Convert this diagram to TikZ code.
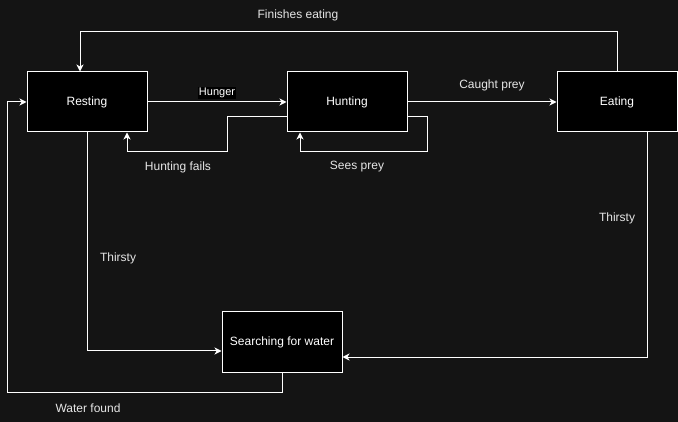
\documentclass[tikz,border=0pt]{standalone}
\usepackage{fontspec}
\setmainfont{Liberation Sans}
\usetikzlibrary{arrows.meta, positioning}
\definecolor{canvas}{HTML}{141414}
\definecolor{txt}{HTML}{E6E6E6}
\tikzset{
x=1pt, y=-1pt, % one unit is one pixel of the sketch, y runs down
state/.style={draw=white, fill=black, line width=1pt, minimum width=120pt, minimum height=60pt, inner sep=0pt, text=white, font=\fontsize{12}{14}\selectfont}, % the boxes
edge/.style={draw=white, line width=1pt, -{Stealth[length=7pt, width=7pt, inset=2pt]}}, % the connectors
lbl/.style={text=txt, font=\fontsize{12}{14}\selectfont, inner sep=1pt}, % edge labels
}

\begin{document}
\begin{tikzpicture}
        \fill[canvas] (0,0) rectangle (678,422);
        \useasboundingbox (0,0) rectangle (678,422);

        \node[state] (resting) at (87, 102) {Resting};
        \node[state] (hunting) at (347, 102) {Hunting};
        \node[state] (eating) at (617, 102) {Eating};
        \node[state] (search) at (282, 342) {Searching for water};

        \coordinate (fe) at (80, 32);
        \coordinate (hf) at (227, 152);
        \coordinate (sp) at (427, 152);
        \coordinate (wf) at (7, 392);

        \draw[edge] (eating.north) |- (fe) -- (fe |- resting.north);
        \draw[edge] (resting.east) -- (hunting.west);
        \draw[edge] (hunting.east) -- (eating.west);
        \draw[edge] ([yshift=-15pt]hunting.west) -| (hf) -| ([xshift=40pt]resting.south);
        \draw[edge] ([yshift=-15pt]hunting.east) -| (sp) -| ([xshift=-47pt]hunting.south);
        \draw[edge] (resting.south) |- ([yshift=-9pt]search.west);
        \draw[edge] ([xshift=30pt]eating.south) |- ([yshift=-15pt]search.east);
        \draw[edge] (search.south) |- (wf) |- (resting.west);

        \node[lbl] (finishes) at (298, 15) {Finishes eating};
        \node[lbl, fill=black, text=white, font=\fontsize{11}{13}\selectfont] (hunger) at (217, 93) {Hunger};
        \node[lbl] (caught) at (492, 85) {Caught prey};
        \node[lbl] (fails) at (178, 167) {Hunting fails};
        \node[lbl] (sees) at (357, 167) {Sees prey};
        \node[lbl] (thirsty-l) at (118, 258) {Thirsty};
        \node[lbl] (thirsty-r) at (617, 218) {Thirsty};
        \node[lbl] (found) at (88, 408) {Water found};
    \end{tikzpicture}
\end{document}
